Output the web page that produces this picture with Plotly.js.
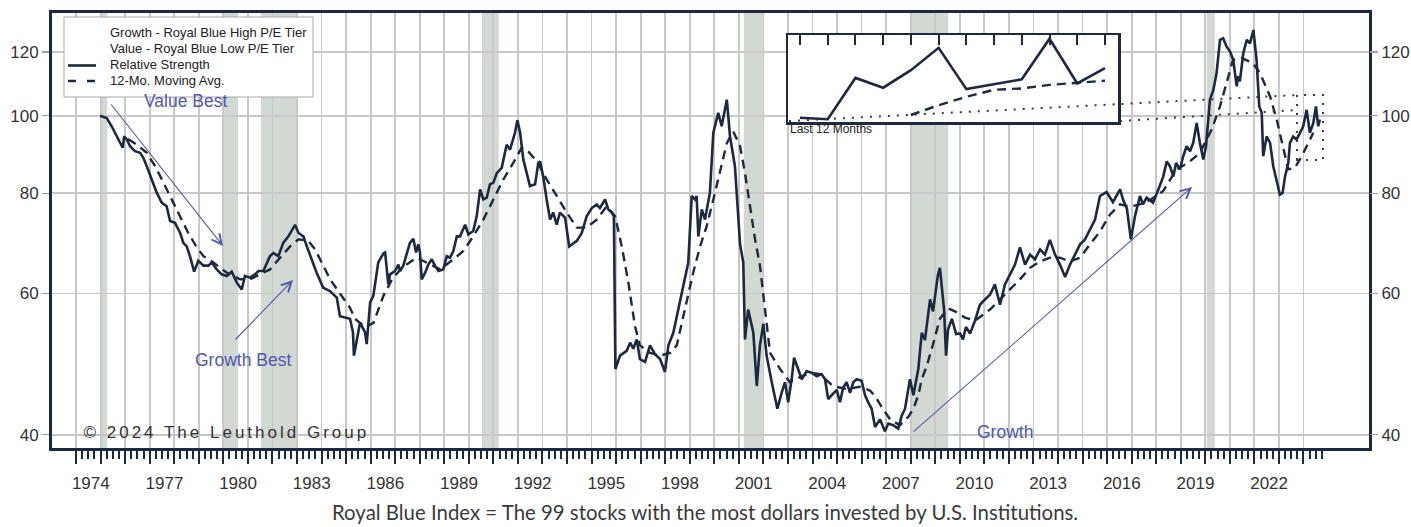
<!DOCTYPE html>
<html><head><meta charset="utf-8">
<script src="https://cdn.plot.ly/plotly-3.0.1.min.js"></script>
<style>
html,body{margin:0;padding:0;background:#fff;}
#chart{width:1411px;height:527px;}
.annotation[data-index="0"] .annotation-text{letter-spacing:3px;}
</style></head><body><div id="chart"></div>
<script>
// ---------------- DATA ----------------
const rsYears = [1974.98,1975.25,1975.45,1975.59,1975.79,1975.90,1975.96,1976.07,1976.20,1976.40,1976.61,1976.74,1976.88,1977.08,1977.29,1977.49,1977.69,1977.83,1978.03,1978.24,1978.37,1978.51,1978.64,1978.81,1978.98,1979.19,1979.39,1979.53,1979.73,1979.93,1980.14,1980.34,1980.55,1980.75,1980.88,1981.09,1981.29,1981.43,1981.63,1981.90,1982.04,1982.24,1982.44,1982.65,1982.79,1982.92,1983.06,1983.26,1983.40,1983.60,1983.80,1984.07,1984.35,1984.62,
1984.75,1985.16,1985.28,1985.32,1985.57,1985.77,1985.84,1985.98,1986.11,1986.31,1986.52,1986.59,1986.72,1986.79,1986.99,1987.13,1987.20,1987.33,1987.47,1987.60,1987.74,1987.85,1987.94,1988.01,1988.08,1988.22,1988.35,1988.49,1988.62,1988.76,1988.96,1989.10,1989.23,1989.37,1989.51,1989.64,1989.85,1989.98,1990.18,1990.32,1990.46,1990.59,1990.73,1990.86,1991.00,1991.14,1991.34,1991.54,1991.68,1991.88,1991.98,1992.09,1992.22,1992.42,1992.49,1992.70,1992.83,1992.90,1993.03,1993.17,1993.31,1993.44,1993.58,1993.71,1993.92,1994.09,1994.26,1994.40,1994.60,1994.80,1995.01,1995.21,1995.34,1995.55,1995.68,1995.82,1995.91,1995.97,1996.16,1996.43,1996.57,1996.70,1996.84,1996.97,1997.18,1997.38,1997.58,1997.79,1997.99,1998.13,1998.33,1998.53,1998.74,1998.94,1999.08,1999.21,1999.28,1999.35,1999.49,1999.62,1999.82,1999.96,2000.16,2000.30,2000.51,2000.64,2000.84,2000.98,2001.05,2001.18,2001.25,2001.38,2001.59,
2001.73,2001.86,2002.00,2002.13,2002.34,2002.57,2002.75,2002.88,2003.01,2003.15,2003.25,2003.42,2003.56,2003.76,2003.97,2004.17,2004.37,2004.51,2004.64,2004.78,2004.99,2005.12,2005.25,2005.39,2005.53,2005.66,2005.80,2006.00,2006.14,2006.27,2006.41,2006.55,2006.75,2006.95,2007.09,2007.29,2007.49,2007.63,2007.77,2007.97,2008.11,2008.31,2008.45,
2008.58,2008.70,2008.79,2008.91,2009.03,2009.11,2009.19,2009.27,2009.36,2009.44,2009.52,2009.68,2009.85,2010.01,2010.13,2010.25,2010.42,2010.62,2010.82,2011.03,2011.23,2011.43,2011.64,2011.84,2012.04,2012.25,2012.45,2012.66,2012.86,2013.06,2013.27,2013.47,2013.67,2013.88,2014.08,2014.29,2014.49,2014.69,2014.90,2015.10,2015.30,2015.51,2015.71,2015.98,2016.24,2016.53,2016.65,2016.81,2016.97,2017.14,2017.34,2017.46,2017.61,2017.87,2018.09,
2018.29,2018.43,2018.56,2018.70,2018.81,2018.97,2019.10,2019.24,2019.38,2019.51,2019.65,2019.78,2019.92,2020.03,2020.19,2020.33,2020.46,2020.60,2020.73,2020.87,2021.01,2021.14,2021.21,2021.28,2021.34,2021.41,2021.55,2021.69,2021.82,2021.96,2022.09,2022.20,2022.30,2022.36,2022.50,2022.64,2022.77,2022.91,2023.04,2023.15,2023.25,2023.38,2023.45,2023.58,2023.72,2023.86,2023.99,2024.13,2024.26,2024.40,2024.51,2024.60,2024.67];
const rsValues = [100,99.3,97.0,95.2,92.5,91.2,94.2,93.4,91.6,90.3,89.9,88.6,86.5,83.3,80.1,77.9,77.1,73.9,73.5,71.4,69.4,68.7,66.8,63.9,65.9,65.0,65.0,65.6,64.3,63.4,63.1,63.9,61.9,60.7,63.1,62.8,63.4,64.0,64.0,66.8,67.4,66.8,69.4,70.7,72.1,73.1,71.4,70.7,68.7,66.2,63.7,61.0,60.4,59.3,
56.2,55.8,53.7,50.2,55.2,53.7,51.9,58.5,59.6,65.6,67.3,67.5,61.6,63.4,64.0,65.2,64.0,65.0,67.1,69.4,70.2,67.5,69.1,67.5,62.5,63.7,65.2,66.2,65.0,64.0,64.3,66.8,66.5,67.8,70.7,70.7,73.1,71.1,71.8,74.9,80.9,78.6,79.0,82.1,82.5,84.8,86.1,92.0,90.7,95.2,98.7,95.2,88.2,83.3,81.7,82.1,87.3,87.7,84.0,78.6,74.2,75.7,73.1,75.7,74.6,68.7,69.4,69.8,71.4,74.9,76.7,77.5,76.7,78.6,76.4,75.7,74.9,48.3,50.2,50.9,52.1,51.2,52.6,49.7,49.3,51.7,50.4,49.7,47.9,51.7,53.6,57.3,61.3,65.6,79.4,78.6,79.4,70.7,76.4,74.2,80.1,95.2,100.8,97.0,104.7,94.2,86.5,72.8,69.1,65.6,52.6,57.3,53.6,
46.0,51.7,55.0,50.2,46.5,43.1,45.2,46.5,43.9,46.9,49.9,48.3,46.9,48.0,47.8,47.3,47.6,46.9,44.3,44.8,45.5,43.9,45.8,46.5,45.1,46.5,46.9,46.7,44.8,43.9,43.1,40.9,41.8,40.4,41.3,41.1,40.7,42.2,43.1,46.9,44.8,48.3,53.6,
52.5,55.8,59.0,57.0,60.7,63.3,64.6,61.5,57.3,50.2,54.1,55.8,53.4,53.5,52.6,54.5,53.5,55.5,58.1,59.0,59.8,61.6,58.1,61.6,63.4,65.2,68.5,65.2,67.1,66.2,68.1,67.1,70.0,67.1,65.2,62.9,65.2,67.1,69.1,70.1,72.1,74.2,79.4,80.3,78.0,80.9,78.6,76.5,70.1,75.0,79.4,77.5,79.0,77.9,80.9,
84.0,87.7,86.5,84.0,87.3,85.7,89.0,91.6,90.3,92.5,97.9,92.5,88.2,91.6,104.7,107.7,113.0,124.3,124.9,121.9,120.2,117.4,112.0,108.8,112.0,110.4,119.7,124.3,123.1,127.9,117.4,102.7,100.8,89.0,94.2,92.5,86.5,82.5,79.7,80.1,84.0,87.3,92.5,94.2,93.4,95.2,97.0,101.7,95.2,97.9,102.7,97.0,98.9];

const maYears = [1976.12,1976.48,1976.88,1977.22,1977.56,1977.90,1978.24,1978.57,1978.92,1979.19,1979.59,1980.14,1980.68,1981.09,1981.49,1981.90,1982.31,1982.72,1983.06,1983.46,1983.74,1984.01,1984.35,1984.75,1985.16,1985.36,1985.77,1986.11,1986.52,1986.87,1987.27,1987.88,1988.34,1988.83,1989.37,1989.78,1990.18,1990.59,1991.00,1991.41,1991.81,1992.15,1992.36,1992.77,1993.17,1993.58,1993.99,1994.40,1994.80,1995.21,1995.62,1995.96,1996.23,1996.50,1996.77,1996.97,1997.38,1997.79,1998.20,1998.47,1998.88,1999.14,1999.42,1999.69,1999.96,2000.23,2000.51,2000.77,2001.05,2001.25,2001.45,2001.66,2001.86,2002.27,2002.68,2003.08,2003.49,2003.90,2004.31,2004.83,2005.39,2005.93,2006.34,2006.55,2006.82,2007.16,2007.56,2007.90,2008.11,2008.31,2008.45,2008.65,2008.86,2008.99,2009.19,2009.52,2009.80,2010.21,2010.62,2011.23,2011.64,2012.04,2012.45,2012.86,2013.27,2013.67,2014.08,2014.49,2014.90,2015.30,2015.71,2016.12,2016.53,2016.93,2017.34,2017.75,2018.28,2018.83,2019.30,2019.78,2020.26,2020.60,2020.94,2021.13,2021.48,2021.94,2022.23,2022.64,2022.91,2023.18,2023.38,2023.65,2023.93,2024.20,2024.40];
const maValues = [93.5,92.0,89.9,86.5,82.5,78.6,74.9,71.4,68.5,66.8,65.6,63.7,62.5,62.5,63.4,64.3,66.5,68.7,70.1,69.8,68.1,65.6,62.5,60.0,57.6,55.8,54.5,55.1,59.6,62.5,64.6,66.5,65.5,64.3,66.2,67.8,70.7,74.2,78.6,83.3,87.3,91.2,90.7,87.7,83.3,79.4,75.7,72.5,72.5,74.2,77.1,74.9,68.7,61.9,54.6,51.7,50.6,50.2,50.6,51.7,59.0,63.7,68.7,72.8,78.6,84.8,92.4,95.6,91.6,84.8,77.1,70.1,65.0,50.6,48.3,46.5,47.2,47.8,47.6,46.0,45.6,45.9,45.4,44.7,43.3,41.8,41.1,42.1,43.1,44.8,46.9,48.7,51.2,53.1,55.8,57.5,57.0,56.0,55.5,57.3,59.0,60.7,62.5,64.6,65.8,66.5,66.5,65.8,66.5,69.1,71.7,75.3,77.5,77.0,77.5,78.5,80.5,85.7,87.3,89.9,96.1,102.7,112.0,117.4,118.0,116.3,113.0,105.7,98.9,90.7,85.7,86.1,89.0,92.5,95.2];

const insetMonths = [1,2,3,4,5,6,7,8,9,10,11,12];
const insetRS = [88.5,88.3,94.2,92.8,95.3,98.5,92.6,93.3,94.0,99.8,93.4,95.6];
const insetMAMonths = [5,6,7,8,9,10,11,12];
const insetMA = [88.9,90.3,91.5,92.5,92.7,93.2,93.5,93.8];

const recessionStarts = [1974.98,1979.99,1981.53,1990.53,2001.20,2007.97,2020.06];
const recessionEnds   = [1975.27,1980.60,1982.99,1991.22,2002.00,2009.53,2020.39];

const yTickValues = [40,60,80,100,120];
const yTickLabels = ['40','60','80','100','120'];
const yearLabels = [1974,1977,1980,1983,1986,1989,1992,1995,1998,2001,2004,2007,2010,2013,2016,2019,2022];

// ---------------- LAYOUT HELPERS ----------------
const W = 1411, H = 527;
const PL = 52, PT = 13, PW = 1317, PH = 435;
const px = x => (x - PL) / PW;
const py = y => (PT + PH - y) / PH;
const NAVY = '#1d2940';
const GRID = '#c8c8c8';
const BLUE = '#5159ad';
const FONT = 'Liberation Sans, Arial, sans-serif';

const gridYears = [];
for (let y = 1974; y <= 2024; y++) gridYears.push(y);
const quarterTicks = [];
for (let y = 1974; y <= 2024; y++) { [0.25,0.5,0.75].forEach(q => quarterTicks.push(y + q)); }

const xRange = [1973.02, 2026.67];
const yRange = [Math.log10(38.5), Math.log10(134.3)];

const traces = [
  {x: rsYears, y: rsValues, type: 'scatter', mode: 'lines', name: 'Relative Strength',
   line: {color: NAVY, width: 2.6}, hoverinfo: 'skip'},
  {x: maYears, y: maValues, type: 'scatter', mode: 'lines', name: '12-Mo. Moving Avg.',
   line: {color: NAVY, width: 2.4, dash: '9px,6px'}, hoverinfo: 'skip'},
  {x: [1900], y: [50], xaxis: 'x2', yaxis: 'y', mode: 'lines', showlegend: false, hoverinfo: 'skip'},
  {x: [1900], y: [50], xaxis: 'x', yaxis: 'y2', mode: 'lines', showlegend: false, hoverinfo: 'skip'},
  {x: insetMonths, y: insetRS, xaxis: 'x3', yaxis: 'y3', mode: 'lines', showlegend: false,
   line: {color: NAVY, width: 2.6}, hoverinfo: 'skip'},
  {x: insetMAMonths, y: insetMA, xaxis: 'x3', yaxis: 'y3', mode: 'lines', showlegend: false,
   line: {color: NAVY, width: 2.4, dash: '9px,6px'}, hoverinfo: 'skip'}
];

const shapes = [];
for (let i = 0; i < recessionStarts.length; i++) {
  shapes.push({type: 'rect', xref: 'x', yref: 'paper', x0: recessionStarts[i], x1: recessionEnds[i],
    y0: 0, y1: 1, fillcolor: '#d2d8d2', line: {width: 0}, layer: 'below'});
}
// legend box
shapes.push({type: 'rect', xref: 'paper', yref: 'paper', x0: px(64), x1: px(313), y0: py(97), y1: py(17),
  fillcolor: '#ffffff', line: {color: '#a9a9a9', width: 1}, layer: 'above'});
shapes.push({type: 'line', xref: 'paper', yref: 'paper', x0: px(68), x1: px(96), y0: py(65.5), y1: py(65.5),
  line: {color: NAVY, width: 2.6}, layer: 'above'});
shapes.push({type: 'line', xref: 'paper', yref: 'paper', x0: px(68), x1: px(96), y0: py(81), y1: py(81),
  line: {color: NAVY, width: 2.4, dash: '8px,11px'}, layer: 'above'});
// zoom indicator (dotted)
const DOT = {color: '#3a3a3a', width: 2, dash: '2px,7px'};
shapes.push({type: 'line', xref: 'paper', yref: 'paper', x0: px(789), y0: py(121), x1: px(1297), y1: py(95), line: DOT, layer: 'above'});
shapes.push({type: 'line', xref: 'paper', yref: 'paper', x0: px(1120), y0: py(121), x1: px(1297), y1: py(110), line: DOT, layer: 'above'});
shapes.push({type: 'rect', xref: 'paper', yref: 'paper', x0: px(1297), y0: py(160), x1: px(1323), y1: py(95), line: DOT, layer: 'above'});

function arrow(tx, ty, hx, hy) {
  return {xref: 'paper', yref: 'paper', x: px(hx), y: py(hy), ax: tx - hx, ay: ty - hy,
    axref: 'pixel', ayref: 'pixel', text: '', showarrow: true, arrowhead: 5, arrowsize: 1.8,
    arrowwidth: 1.1, arrowcolor: BLUE};
}
function label(text, x, y, size, color, anchor, family) {
  return {xref: 'paper', yref: 'paper', x: px(x), y: py(y), text: text, showarrow: false,
    xanchor: anchor || 'center', yanchor: 'middle',
    font: {family: family || FONT, size: size, color: color}};
}

const annotations = [
  label('© 2024 The Leuthold Group', 226.5, 432, 17, '#333333'),
  label('Growth - Royal Blue High P/E Tier', 108, 32.7, 13, '#222222', 'left'),
  label('Value - Royal Blue Low P/E Tier', 108, 48.3, 13, '#222222', 'left'),
  label('Relative Strength', 108, 64, 13, '#222222', 'left'),
  label('12-Mo. Moving Avg.', 108, 80.5, 13, '#222222', 'left'),
  label('Value Best', 185, 101, 17.5, BLUE),
  label('Growth Best', 243, 360, 17.5, BLUE),
  label('Growth', 1005, 432, 17.5, BLUE),
  label('Last 12 Months', 788, 128.5, 12, '#222222', 'left'),
  label('Royal Blue Index = The 99 stocks with the most dollars invested by U.S. Institutions.', 705, 511.5, 20.4, '#3a3a3a', 'center', 'Lato, Noto Sans, sans-serif'),
  arrow(110, 103, 223, 246),
  arrow(234, 341, 293, 280),
  arrow(912, 433, 1192, 187)
];

const layout = {
  width: W, height: H,
  margin: {l: PL, r: W - PL - PW, t: PT, b: H - PT - PH, pad: 0},
  paper_bgcolor: '#ffffff', plot_bgcolor: '#ffffff',
  showlegend: false,
  font: {family: FONT, color: '#333333', size: 17},
  xaxis: {type: 'linear', range: xRange, tickmode: 'array', tickvals: gridYears, showticklabels: false,
    ticks: 'outside', ticklen: 13, tickwidth: 2, tickcolor: NAVY,
    showgrid: true, gridcolor: GRID, gridwidth: 1.8, zeroline: false,
    showline: true, linecolor: NAVY, linewidth: 3, mirror: true,
    minor: {tickmode: 'array', tickvals: quarterTicks, ticks: 'outside', ticklen: 8, tickwidth: 2, tickcolor: NAVY, showgrid: false}},
  xaxis2: {type: 'linear', overlaying: 'x', anchor: 'y', side: 'bottom', range: xRange,
    tickmode: 'array', tickvals: yearLabels.map(v => v + 0.6), ticktext: yearLabels.map(String),
    ticks: 'outside', ticklen: 20, tickcolor: 'rgba(0,0,0,0)', showgrid: false, zeroline: false, showline: false,
    tickfont: {family: FONT, size: 17, color: '#333333'}},
  yaxis: {type: 'log', range: yRange, tickmode: 'array', tickvals: yTickValues, ticktext: yTickLabels,
    ticks: 'outside', ticklen: 7, tickwidth: 1.5, tickcolor: '#a0a0a0',
    showgrid: true, gridcolor: GRID, gridwidth: 1.8, zeroline: false,
    showline: true, linecolor: NAVY, linewidth: 3, mirror: true,
    tickfont: {family: FONT, size: 17, color: '#333333'}},
  yaxis2: {type: 'log', overlaying: 'y', anchor: 'x', side: 'right', range: yRange,
    tickmode: 'array', tickvals: yTickValues, ticktext: yTickLabels,
    ticks: 'outside', ticklen: 8, tickwidth: 1.5, tickcolor: '#a0a0a0',
    showgrid: false, zeroline: false, showline: false,
    tickfont: {family: FONT, size: 17, color: '#333333'}},
  xaxis3: {domain: [px(788), px(1118)], anchor: 'y3', side: 'top', range: [0.567, 12.47],
    tickmode: 'array', tickvals: insetMonths, ticks: 'inside', ticklen: 10, tickwidth: 2, tickcolor: NAVY,
    showticklabels: false, showgrid: false, zeroline: false,
    showline: true, mirror: true, linecolor: NAVY, linewidth: 2.5},
  yaxis3: {domain: [py(122), py(35)], anchor: 'x3', range: [87.9, 100.33],
    showticklabels: false, ticks: '', showgrid: false, zeroline: false,
    showline: true, mirror: true, linecolor: NAVY, linewidth: 2.5},
  shapes: shapes,
  annotations: annotations
};

Plotly.newPlot('chart', traces, layout, {displayModeBar: false, staticPlot: true});
</script></body></html>
